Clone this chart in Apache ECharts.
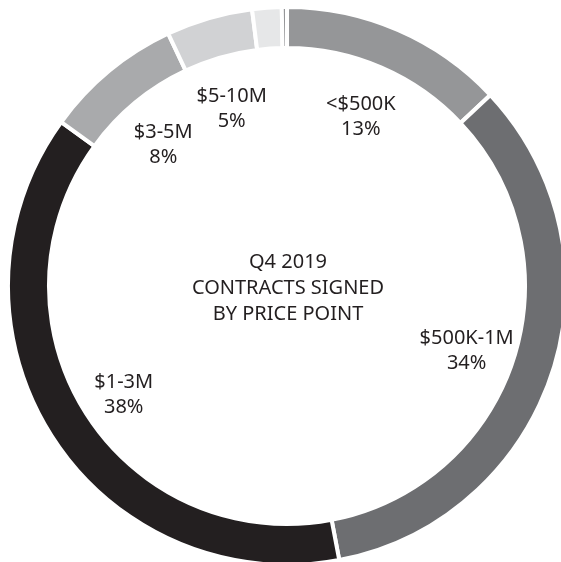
<!DOCTYPE html>
<html>
<head>
<meta charset="utf-8">
<script src="https://cdn.jsdelivr.net/npm/echarts@6/dist/echarts.min.js"></script>
<style>
html,body{margin:0;padding:0;background:#fff;}
#chart{width:561px;height:562px;}
</style>
</head>
<body>
<div id="chart"></div>
<script>
// Data (clockwise from 12 o'clock)
const categories = ['<$500K', '$500K-1M', '$1-3M', '$3-5M', '$5-10M', '$10M+', 'Other'];
const shares = [13, 34, 38, 8, 5, 1.7, 0.3];
const showLabel = [true, true, true, true, true, false, false];
const colors = ['#959698', '#6d6e71', '#231f20', '#a9aaac', '#d1d2d4', '#e6e7e8', '#959698'];
const centerTitle = 'Q4 2019\nCONTRACTS SIGNED\nBY PRICE POINT';

const FONT = 'Noto Sans';
const ringData = categories.map((c, i) => ({
  name: c, value: shares[i], itemStyle: { color: colors[i] }
}));
const labelData = categories.map((c, i) => ({
  name: c, value: shares[i],
  label: { show: showLabel[i] }
}));

const chart = echarts.init(document.getElementById('chart'), null, { renderer: 'canvas' });
chart.setOption({
  animation: false,
  backgroundColor: '#ffffff',
  title: {
    text: centerTitle,
    left: 283, top: 244,
    textAlign: 'center',
    textStyle: { fontFamily: FONT, fontWeight: 'normal', fontSize: 20, lineHeight: 26, color: '#231f20' }
  },
  series: [
    {
      type: 'pie',
      center: [287, 286],
      radius: [238, 279],
      startAngle: 90,
      clockwise: true,
      avoidLabelOverlap: false,
      silent: true,
      label: { show: false },
      labelLine: { show: false },
      itemStyle: { borderColor: '#ffffff', borderWidth: 4 },
      data: ringData
    },
    {
      type: 'pie',
      center: [285, 292],
      radius: [151, 225],
      startAngle: 90,
      clockwise: true,
      avoidLabelOverlap: false,
      silent: true,
      itemStyle: { color: 'rgba(0,0,0,0)' },
      labelLine: { show: false },
      label: {
        show: true,
        position: 'inside',
        fontFamily: FONT,
        fontSize: 20,
        lineHeight: 25,
        color: '#231f20',
        formatter: p => p.name + '\n' + Math.round(p.value) + '%'
      },
      data: labelData
    }
  ]
});
</script>
</body>
</html>
